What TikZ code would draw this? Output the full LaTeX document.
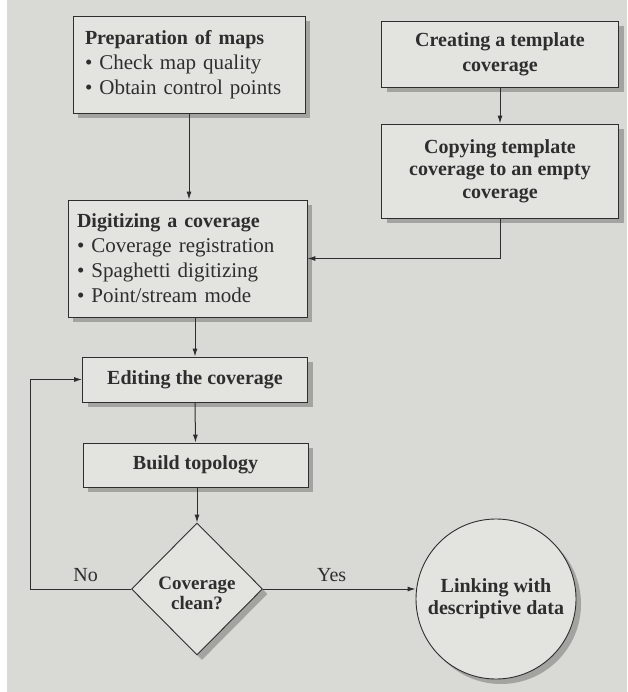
\documentclass[tikz,border=0pt]{standalone}
\usepackage{fontspec}
\setmainfont{Liberation Serif}
\usetikzlibrary{shapes.geometric,shadows,arrows.meta}
\definecolor{paper}{HTML}{D9D9D6}
\definecolor{boxfill}{HTML}{E3E3E0}
\definecolor{ink}{HTML}{2E2E2E}
\definecolor{shade}{HTML}{A3A3A0}
\tikzset{
  boxnode/.style={draw=ink, line width=0.9pt, fill=boxfill, text=ink, inner sep=0pt,
    drop shadow={shadow xshift=5pt, shadow yshift=-5pt, fill=shade, opacity=1}},
  lefttext/.style={align=left, font=\fontsize{21}{25}\selectfont},
  centertext/.style={align=center, font=\fontsize{20}{24}\selectfont\bfseries},
  arr/.style={draw=ink, line width=1pt, -{Latex[length=8pt,width=5pt]}},
  lbl/.style={text=ink, font=\fontsize{20}{24}\selectfont}
}
\begin{document}
\begin{tikzpicture}[x=1pt,y=-1pt]
\fill[paper] (0,0) rectangle (627,692);
\fill[white] (0,0) rectangle (7,692);
\useasboundingbox (0,0) rectangle (627,692);

\node[boxnode, minimum width=232pt, minimum height=97pt, text width=208pt, lefttext] (b1) at (189,64.5)
  {\textbf{\fontsize{20}{25}\selectfont Preparation of maps}\\ • Check map quality\\ • Obtain control points};
\node[boxnode, minimum width=237pt, minimum height=66pt, centertext, font=\fontsize{20}{25}\selectfont\bfseries] (b2) at (500,54)
  {Creating a template\\ coverage};
\node[boxnode, minimum width=237pt, minimum height=94pt, centertext, font=\fontsize{20}{22.5}\selectfont\bfseries] (b3) at (500,171)
  {Copying template\\ coverage to an empty\\ coverage};
\node[boxnode, minimum width=239pt, minimum height=117pt, text width=221pt, lefttext] (b4) at (187.5,258.5)
  {\textbf{\fontsize{20}{25}\selectfont Digitizing a coverage}\\ • Coverage registration\\ • Spaghetti digitizing\\ • Point/stream mode};
\node[boxnode, minimum width=225pt, minimum height=45pt, centertext] (b5) at (195,379.5)
  {Editing the coverage};
\node[boxnode, minimum width=225pt, minimum height=44pt, centertext] (b6) at (195.5,465)
  {Build topology};
\node[boxnode, diamond, minimum width=131pt, minimum height=132pt, centertext, font=\fontsize{19}{22}\selectfont\bfseries] (d) at (197,589)
  {\raisebox{-6pt}[\height][\depth]{\begin{tabular}{@{}c@{}}Coverage\\[-2pt] clean?\end{tabular}}};
\node[boxnode, circle, minimum size=160pt, centertext, font=\fontsize{20}{22}\selectfont\bfseries] (c) at (496,599)
  {Linking with\\ descriptive data};

\coordinate (loop) at (30,589);

\draw[arr] (b1.south) -- (b1.south |- b4.north);
\draw[arr] (b2.south) -- (b3.north);
\draw[arr] (b3.south) |- (b4.east);
\draw[arr] (b5.north |- b4.south) -- (b5.north);
\draw[arr] (b5.south) -- (b6.north);
\draw[arr] (d.north |- b6.south) -- (d.north);
\draw[arr] (d.east) -- node[lbl, above=3pt, pos=0.45] {Yes} (d.east -| c.west);
\draw[arr] (d.west) -- node[lbl, above=3pt, pos=0.45] {No} (loop) |- (b5.west);
\end{tikzpicture}
\end{document}
